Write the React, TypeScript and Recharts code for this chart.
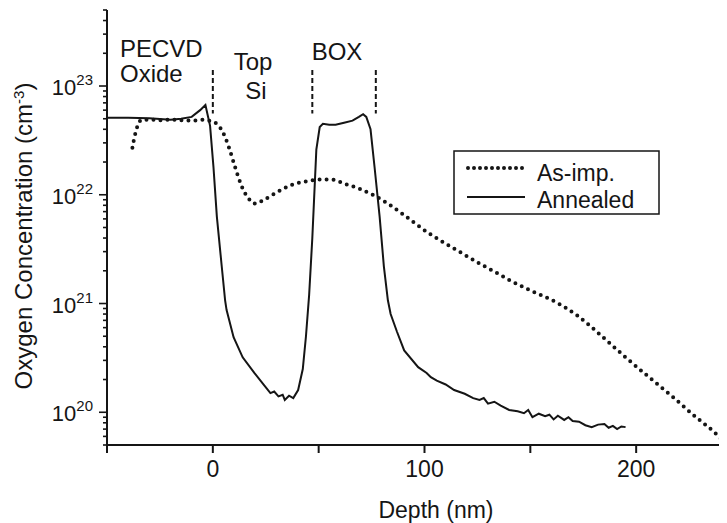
import React from "react"
import { LineChart, Line, XAxis, YAxis, ReferenceLine } from "recharts"

// Annealed profile (solid)
const annealedDepth = [
  -50, -40, -30, -20, -15, -10, -6, -3.5, -1.3, 0.3, 1.9, 4.2, 5.8, 6.5, 9.8, 14.1, 19.6, 24, 27.2, 29, 31, 33, 34, 36, 38,
  40.3, 42.5, 44, 45.5, 47, 48.9, 50.5, 52, 55, 58, 62, 66, 69, 71, 72.5, 74.5, 76.4, 78.8, 80.8, 82.7, 84, 87, 90.4, 97,
  101, 103, 105.8, 110, 114, 119, 123, 126, 128, 130, 133, 136, 140, 144, 147, 149, 151, 154, 157, 159, 161, 163, 166,
  168, 170, 173, 176, 179, 182, 185, 187, 189, 191, 193, 195,
]
const annealedConc = [
  5.1e22, 5.1e22, 5.05e22, 4.9e22, 5.0e22, 5.2e22, 6.0e22, 6.7e22, 4.3e22, 1.8e22, 6.3e21, 2.2e21, 1.07e21, 8.7e20, 4.9e20,
  3.2e20, 2.3e20, 1.8e20, 1.5e20, 1.55e20, 1.4e20, 1.45e20, 1.3e20, 1.42e20, 1.35e20,
  1.6e20, 2.5e20, 5e20, 1.2e21, 4e21, 2.6e22, 4.2e22, 4.5e22, 4.4e22, 4.4e22, 4.6e22, 4.8e22, 5.2e22, 5.5e22, 5.2e22,
  4.0e22, 1.8e22, 6.3e21, 2.2e21, 1.07e21, 8e20, 5.5e20, 3.7e20, 2.6e20,
  2.3e20, 2.1e20, 1.95e20, 1.8e20, 1.6e20, 1.48e20, 1.35e20, 1.3e20, 1.35e20, 1.2e20, 1.25e20, 1.15e20, 1.05e20, 1.02e20,
  0.98e20, 1.05e20, 0.9e20, 0.97e20, 0.92e20, 0.95e20, 0.86e20, 0.93e20, 0.85e20,
  0.9e20, 0.83e20, 0.82e20, 0.76e20, 0.73e20, 0.77e20, 0.78e20, 0.72e20, 0.75e20, 0.7e20, 0.74e20, 0.73e20,
]

// As-implanted profile (dotted)
const asImpDepth = [
  -38, -37.3, -36.2, -35, -33.4, -30, -25, -20, -15, -10, -5, -2, 1.1, 4.9, 7.4, 10.5, 13.6, 16.8, 19.9, 24.6, 30.9, 37.2,
  43.4, 51.3, 56, 62.3, 68.6, 76.4, 82.7, 89, 101.5, 114, 126.6, 134.4, 140.7, 150, 162.5, 172, 184.3, 195, 206.1, 217,
  228, 236, 241, 245,
]
const asImpConc = [
  2.7e22, 3.2e22, 3.9e22, 4.6e22, 4.9e22, 4.9e22, 4.85e22, 4.9e22, 4.85e22, 4.8e22, 4.9e22, 4.8e22, 4.6e22, 3.7e22, 2.8e22,
  1.8e22, 1.2e22, 9.3e21, 8.3e21, 9.1e21, 1.07e22, 1.23e22,
  1.32e22, 1.38e22, 1.38e22, 1.26e22, 1.15e22, 9.8e21, 8.3e21, 6.8e21, 4.5e21, 3.2e21, 2.3e21, 1.9e21, 1.62e21, 1.32e21,
  1.02e21, 7.8e20, 4.9e20, 3.2e20, 2.1e20, 1.4e20,
  9.1e19, 6.8e19, 5.5e19, 4.8e19,
]

const boundaryDepths = [0, 47, 77]
const xTicks = [-50, 0, 50, 100, 150, 200, 250]
const xLabeled = [0, 100, 200]
const decades = [19, 20, 21, 22, 23]
const mantissas = [1, 2, 3, 4, 5, 6, 7, 8, 9]

const annealed = annealedDepth.map((d, i) => ({ depth: d, conc: annealedConc[i] }))
const asImp = asImpDepth.map((d, i) => ({ depth: d, conc: asImpConc[i] }))
const yTicks = decades
  .flatMap(d => mantissas.map(m => m * Math.pow(10, d)))
  .filter(v => v >= 4.99e19 && v <= 5.01e23)

const FONT = "'Liberation Sans', Arial, sans-serif"
const INK = "#151515"

const XTick = (props: any) => {
  const { x, y, payload } = props
  const labeled = xLabeled.includes(payload.value)
  return (
    <g>
      <line x1={x} x2={x} y1={y} y2={y + 8} stroke={INK} strokeWidth={2} />
      {labeled && (
        <text x={x} y={y + 32} textAnchor="middle" fontSize={23} fontFamily={FONT} fill={INK}>
          {payload.value}
        </text>
      )}
    </g>
  )
}

const YTick = (props: any) => {
  const { x, y, payload } = props
  const lg = Math.log10(payload.value)
  const major = Math.abs(lg - Math.round(lg)) < 1e-6
  return (
    <g>
      <line x1={x - (major ? 8 : 4)} x2={x} y1={y} y2={y} stroke={INK} strokeWidth={1.6} />
      {major && (
        <text x={x - 14} y={y + 9} textAnchor="end" fontSize={22} fontFamily={FONT} fill={INK}>
          10<tspan dy={-10} fontSize={15}>{Math.round(lg)}</tspan>
        </text>
      )}
    </g>
  )
}

export default function App() {
  return (
    <div style={{ position: "relative", width: 719, height: 515, overflow: "hidden", background: "#fff", fontFamily: FONT }}>
      <LineChart width={760} height={515} margin={{ top: 2, right: 26, bottom: 0, left: 0 }}>
        <XAxis
          dataKey="depth"
          type="number"
          domain={[-50, 250]}
          allowDataOverflow
          ticks={xTicks}
          interval={0}
          tick={<XTick />}
          tickLine={false}
          tickSize={0}
          tickMargin={0}
          height={78}
          axisLine={{ stroke: INK, strokeWidth: 2 }}
        />
        <XAxis
          xAxisId="top"
          orientation="top"
          type="number"
          domain={[-50, 250]}
          tick={false}
          tickLine={false}
          height={0}
          axisLine={{ stroke: INK, strokeWidth: 2 }}
        />
        <YAxis
          dataKey="conc"
          scale="log"
          domain={[5e19, 5e23]}
          allowDataOverflow
          ticks={yTicks}
          interval={0}
          tick={<YTick />}
          tickLine={false}
          tickSize={0}
          tickMargin={0}
          width={99}
          axisLine={{ stroke: INK, strokeWidth: 2 }}
        />
        {boundaryDepths.map(d => (
          <ReferenceLine
            key={d}
            segment={[{ x: d, y: 1.4e23 }, { x: d, y: 5.6e22 }]}
            stroke={INK}
            strokeWidth={2}
            strokeDasharray="5 3"
          />
        ))}
        <Line
          data={asImp}
          dataKey="conc"
          name="As-imp."
          type="monotone"
          stroke={INK}
          strokeWidth={4}
          strokeDasharray="0 7"
          strokeLinecap="round"
          dot={false}
          activeDot={false}
          isAnimationActive={false}
        />
        <Line
          data={annealed}
          dataKey="conc"
          name="Annealed"
          type="linear"
          stroke={INK}
          strokeWidth={2}
          dot={false}
          activeDot={false}
          isAnimationActive={false}
        />
      </LineChart>
      <svg width={719} height={515} style={{ position: "absolute", left: 0, top: 0, pointerEvents: "none" }}>
        <g fontFamily={FONT} fill={INK} fontSize={24}>
          <text x={112} y={49}>PECVD</text>
          <text x={112} y={74}>Oxide</text>
          <text x={245} y={62} textAnchor="middle">Top</text>
          <text x={248} y={91} textAnchor="middle">Si</text>
          <text x={329} y={52} textAnchor="middle">BOX</text>
        </g>
        <text x={428} y={510} textAnchor="middle" fontSize={23} fontFamily={FONT} fill={INK}>
          Depth (nm)
        </text>
        <text
          transform="translate(24,228) rotate(-90)"
          textAnchor="middle"
          fontSize={24}
          fontFamily={FONT}
          fill={INK}
        >
          Oxygen Concentration (cm<tspan dy={-8} fontSize={15}>-3</tspan>
          <tspan dy={8}>)</tspan>
        </text>
        <g>
          <rect x={446} y={143} width={205} height={63} fill="#fff" stroke={INK} strokeWidth={1.5} />
          <line x1={460} x2={517} y1={160} y2={160} stroke={INK} strokeWidth={4} strokeDasharray="0 6" strokeLinecap="round" />
          <line x1={459} x2={517} y1={189} y2={189} stroke={INK} strokeWidth={2} />
          <text x={529} y={173} fontSize={23} fontFamily={FONT} fill={INK}>As-imp.</text>
          <text x={529} y={200} fontSize={23} fontFamily={FONT} fill={INK}>Annealed</text>
        </g>
      </svg>
    </div>
  )
}
